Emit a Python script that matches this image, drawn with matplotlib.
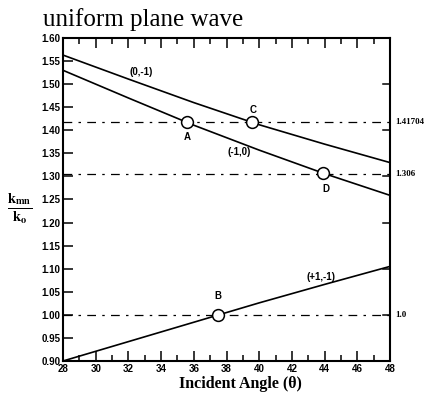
import numpy as np
import matplotlib
matplotlib.use('Agg')
import matplotlib.pyplot as plt
from matplotlib.ticker import MultipleLocator

plt.rcParams['mathtext.fontset'] = 'stix'

# incident angle (deg) and curve values
angle = [28, 32, 36, 40, 44, 48]
k_0m1 = [1.563, 1.511, 1.460, 1.412, 1.370, 1.330]    # (0,-1)
k_m10 = [1.530, 1.470, 1.411, 1.357, 1.306, 1.259]    # (-1,0)
k_p1m1 = [0.900, 0.942, 0.984, 1.026, 1.066, 1.105]   # (+1,-1)

ref_levels = [1.41704, 1.306, 1.0]
ref_labels = ['1.41704', '1.306', '1.0']

pt_x = [35.57, 39.54, 43.9, 37.5]
pt_y = [1.417, 1.417, 1.307, 1.0]

yticks = np.arange(0.9, 1.601, 0.05)

narrow = ['Liberation Sans Narrow', 'Liberation Sans']

fig = plt.figure(figsize=(4.28, 3.94), dpi=100)
ax = fig.add_axes([63/428, 33/394, 327/428, 323/394])

for lev in ref_levels:
    ax.plot([28, 48], [lev, lev], color='black', lw=0.9, linestyle=(0, (7, 5, 2, 5)))

ax.plot(angle, k_0m1, color='black', lw=1.2)
ax.plot(angle, k_m10, color='black', lw=1.2)
ax.plot(angle, k_p1m1, color='black', lw=1.2)

ax.plot(pt_x, pt_y, 'o', ms=8.5, mfc='white', mec='black', mew=1.1, zorder=5)

bold = dict(fontsize=7, fontweight='bold', family=narrow, ha='center', va='center')
ax.text(32.8, 1.527, '(0,-1)', **bold)
ax.text(38.8, 1.353, '(-1,0)', **bold)
ax.text(43.8, 1.082, '(+1,-1)', **bold)
ax.text(35.6, 1.385, 'A', **bold)
ax.text(39.6, 1.445, 'C', **bold)
ax.text(44.1, 1.273, 'D', **bold)
ax.text(37.5, 1.040, 'B', **bold)

for lev, lab in zip(ref_levels, ref_labels):
    ax.text(48.35, lev, lab, ha='left', va='center', fontsize=6.5, fontweight='bold',
            family=['Liberation Serif'], clip_on=False)

ax.set_xlim(28, 48)
ax.set_ylim(0.90, 1.60)
ax.xaxis.set_major_locator(MultipleLocator(2))
ax.xaxis.set_minor_locator(MultipleLocator(1))
ax.set_yticks(yticks)
ax.set_yticklabels([f'{v:.2f}' for v in yticks])
ax.tick_params(axis='both', which='major', direction='in', length=7, width=1.1,
               labelsize=7, pad=2, top=True, right=False)
ax.tick_params(axis='x', which='minor', direction='in', length=4, width=1.1, top=True)
for lab in ax.get_xticklabels() + ax.get_yticklabels():
    lab.set_fontweight('bold')
    lab.set_family(narrow)

# short ticks on the right side
for v in np.arange(0.9, 1.61, 0.1):
    ax.plot([47.6, 48], [v, v], color='black', lw=1.1, clip_on=False)

for s in ax.spines.values():
    s.set_linewidth(1.5)

fig.text(240/428, 1 - 384/394, 'Incident Angle (θ)', fontsize=11.5, fontweight='bold',
         family='Liberation Serif', ha='center', va='center')
fig.text(20/428, 1 - 209/394, r'$\frac{\mathbf{k}_{\mathbf{mn}}}{\mathbf{k}_{\mathbf{o}}}$',
         fontsize=15, ha='center', va='center')
fig.text(43/428, 1 - 26/394, 'uniform plane wave', fontsize=18, family='Liberation Serif',
         ha='left', va='baseline')

fig.savefig('out.png', dpi=100)
